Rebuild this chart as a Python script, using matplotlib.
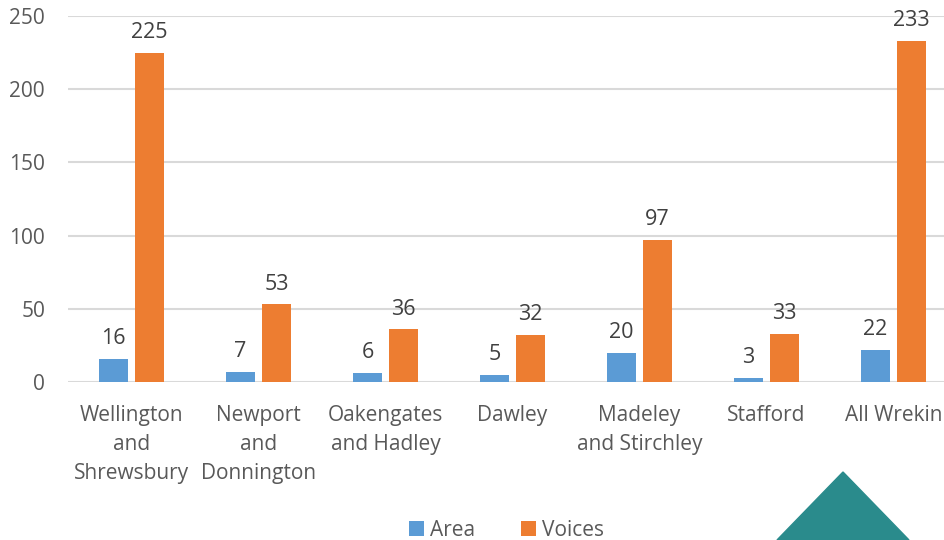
import numpy as np
import matplotlib
matplotlib.use('Agg')
from matplotlib import pyplot as plt
from matplotlib.patches import Polygon

# chart data
categories = ['Wellington\nand\nShrewsbury', 'Newport\nand\nDonnington',
              'Oakengates\nand Hadley', 'Dawley', 'Madeley\nand Stirchley',
              'Stafford', 'All Wrekin']
area = [16, 7, 6, 5, 20, 3, 22]
voices = [225, 53, 36, 32, 97, 33, 233]

blue = '#5B9BD5'
orange = '#ED7D31'
grey = '#595959'

plt.rcParams['font.family'] = ['Open Sans', 'DejaVu Sans']

fig = plt.figure(figsize=(9.45, 5.4), dpi=100)
ax = fig.add_axes([68 / 945, 158 / 540, 889 / 945, 366 / 540])

x = np.arange(len(categories))
w = 0.23
off = 0.1425
b1 = ax.bar(x - off, area, w, color=blue, label='Area', zorder=3)
b2 = ax.bar(x + off, voices, w, color=orange, label='Voices', zorder=3)

# value labels above bars
for bars in (b1, b2):
    for r in bars:
        ax.annotate(str(int(r.get_height())),
                    (r.get_x() + r.get_width() / 2, r.get_height()),
                    xytext=(0, 7), textcoords='offset points',
                    ha='center', va='bottom', fontsize=15.5, color='#404040')

ax.set_xlim(-0.5, len(categories) - 0.5)
ax.set_ylim(0, 250)
ax.set_yticks(range(0, 251, 50))
ax.yaxis.grid(True, color='#D9D9D9', linewidth=1.5, zorder=0)
for s in ax.spines.values():
    s.set_visible(False)
ax.tick_params(axis='both', length=0, labelsize=15, colors=grey)
ax.tick_params(axis='y', pad=16.5)
ax.tick_params(axis='x', pad=16.5)
ax.set_xticks(x)
ax.set_xticklabels(categories, linespacing=1.5)

fig.legend(loc='center', ncol=2, frameon=False, fontsize=15,
           labelcolor=grey, handlelength=0.7, handleheight=0.7,
           handletextpad=0.3, columnspacing=2.2,
           bbox_to_anchor=(0.536, 10 / 540), bbox_transform=fig.transFigure)

# teal triangle decoration in the lower right corner
tri = Polygon([(777 / 945, 0), (843 / 945, 68 / 540), (909 / 945, 0)],
              closed=True, transform=fig.transFigure, color='#2A8B8C')
fig.patches.append(tri)

fig.savefig('out.png', dpi=100)
